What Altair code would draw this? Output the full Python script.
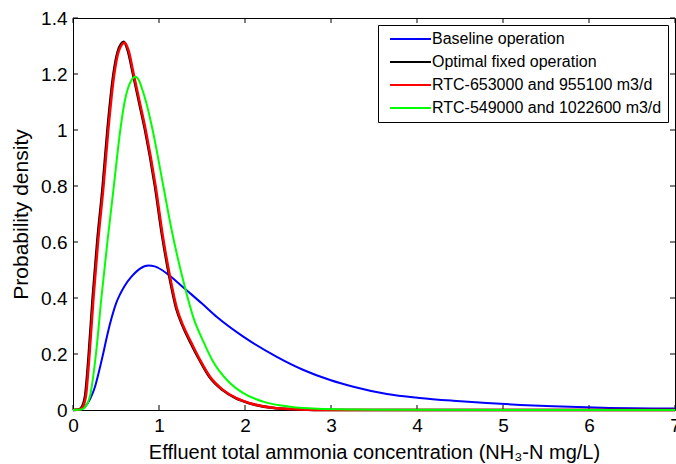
import altair as alt
import pandas as pd

FONT = "Liberation Sans"

series_names = [
    "Baseline operation",
    "Optimal fixed operation",
    "RTC-653000 and 955100 m3/d",
    "RTC-549000 and 1022600 m3/d",
]
series_colors = ["#0000ff", "#000000", "#ff0000", "#00ff00"]
series_widths = [2, 2.5, 2.5, 2]

baseline_x = [0, 0.08, 0.14, 0.2, 0.256, 0.30, 0.35, 0.40, 0.45, 0.50, 0.55, 0.60, 0.68, 0.78, 0.876,
              0.95, 1.09, 1.2, 1.32, 1.5, 1.67, 1.98, 2.37, 2.68, 2.99, 3.26, 3.65, 4.03, 4.42,
              4.81, 5.2, 5.58, 6.16, 7.0]
baseline_y = [0, 0.001, 0.012, 0.04, 0.083, 0.135, 0.20, 0.27, 0.33, 0.38, 0.415, 0.443, 0.476, 0.505, 0.516,
              0.513, 0.488, 0.46, 0.428, 0.38, 0.333, 0.262, 0.19, 0.143, 0.107, 0.083, 0.057, 0.043,
              0.033, 0.025, 0.018, 0.013, 0.008, 0.005]

optimal_x = [0, 0.07, 0.11, 0.14, 0.183, 0.228, 0.281, 0.345, 0.40, 0.47, 0.52, 0.59, 0.635, 0.697,
             0.767, 0.837, 0.952, 1.037, 1.12, 1.198, 1.275, 1.37, 1.47, 1.585, 1.74, 1.89, 2.05,
             2.36, 2.63, 2.94, 7.0]
optimal_y = [0, 0.002, 0.015, 0.05, 0.2, 0.4, 0.6, 0.8, 1.0, 1.2, 1.28, 1.315, 1.285, 1.2,
             1.1, 1.0, 0.8, 0.62, 0.476, 0.365, 0.30, 0.238, 0.179, 0.119, 0.071, 0.042, 0.024,
             0.006, 0.002, 0, 0]

rtc1_x = [0, 0.08, 0.12, 0.15, 0.192, 0.238, 0.291, 0.355, 0.41, 0.48, 0.53, 0.60, 0.645, 0.705,
          0.775, 0.845, 0.96, 1.045, 1.128, 1.206, 1.283, 1.38, 1.477, 1.593, 1.748, 1.90, 2.06,
          2.37, 2.64, 2.94, 7.0]
rtc1_y = [0, 0.002, 0.015, 0.05, 0.2, 0.4, 0.6, 0.8, 1.0, 1.2, 1.28, 1.312, 1.285, 1.2,
          1.1, 1.0, 0.8, 0.62, 0.476, 0.365, 0.30, 0.238, 0.179, 0.119, 0.071, 0.042, 0.024,
          0.006, 0.002, 0, 0]

rtc2_x = [0, 0.10, 0.14, 0.198, 0.267, 0.33, 0.40, 0.475, 0.55, 0.60, 0.64, 0.68, 0.725, 0.77,
          0.80, 0.85, 0.926, 1.05, 1.147, 1.30, 1.40, 1.515, 1.63, 1.79, 1.98, 2.21, 2.52, 2.91,
          3.5, 7.0]
rtc2_y = [0, 0.002, 0.01, 0.05, 0.2, 0.4, 0.6, 0.8, 1.0, 1.1, 1.15, 1.178, 1.19, 1.175,
          1.15, 1.10, 1.0, 0.8, 0.643, 0.44, 0.33, 0.245, 0.172, 0.107, 0.06, 0.03, 0.012, 0.004,
          0.001, 0]

x_ticks = [0, 1, 2, 3, 4, 5, 6, 7]
y_ticks = [0, 0.2, 0.4, 0.6, 0.8, 1.0, 1.2, 1.4]

all_x = [baseline_x, optimal_x, rtc1_x, rtc2_x]
all_y = [baseline_y, optimal_y, rtc1_y, rtc2_y]

W, H = 602, 392

x_scale = alt.Scale(domain=[0, 7], nice=False, zero=False)
y_scale = alt.Scale(domain=[0, 1.4], nice=False, zero=False)

x_axis = alt.Axis(
    values=x_ticks, format="d", title="Effluent total ammonia concentration (NH\u2083-N mg/L)",
    domain=False, ticks=False, grid=False, labelFlush=False,
    labelFont=FONT, labelFontSize=19, labelColor="black", labelPadding=6,
    titleFont=FONT, titleFontSize=20, titleFontWeight="normal", titleColor="black",
    titleBaseline="alphabetic", titleY=48,
)
y_axis = alt.Axis(
    values=y_ticks, format="~g", title="Probability density",
    domain=False, ticks=False, grid=False, labelFlush=False,
    labelFont=FONT, labelFontSize=19, labelColor="black", labelPadding=6,
    titleFont=FONT, titleFontSize=21, titleFontWeight="normal", titleColor="black",
    titleBaseline="alphabetic", titleX=-46, titleY=H / 2, titleAngle=-90, titleAlign="center",
)

color_scale = alt.Scale(domain=series_names, range=series_colors)
legend = alt.Legend(
    title=None, orient="none", legendX=305, legendY=7,
    symbolType="M-4.1,0H4.1", symbolSize=100, symbolStrokeWidth=2, symbolOffset=18.5,
    labelFont=FONT, labelFontSize=16, labelColor="black", labelLimit=400, labelOffset=13.5,
    strokeColor="black", fillColor="white", padding=6, rowPadding=7, cornerRadius=0,
)

layers = []
for name, xs, ys, sw in zip(series_names, all_x, all_y, series_widths):
    df = pd.DataFrame({"x": xs, "y": ys, "series": name})
    layers.append(
        alt.Chart(df).mark_line(interpolate="monotone", strokeWidth=sw).encode(
            x=alt.X("x:Q", scale=x_scale, axis=x_axis),
            y=alt.Y("y:Q", scale=y_scale, axis=y_axis),
            color=alt.Color("series:N", scale=color_scale, legend=legend),
        )
    )

xt = pd.DataFrame({"x": x_ticks})
yt = pd.DataFrame({"y": y_ticks})
tick_len = 5
ticks = [
    alt.Chart(xt).mark_rule(color="black", strokeWidth=1).encode(
        x=alt.X("x:Q", scale=x_scale, axis=x_axis), y=alt.value(H), y2=alt.value(H - tick_len)),
    alt.Chart(xt).mark_rule(color="black", strokeWidth=1).encode(
        x=alt.X("x:Q", scale=x_scale, axis=x_axis), y=alt.value(0), y2=alt.value(tick_len)),
    alt.Chart(yt).mark_rule(color="black", strokeWidth=1).encode(
        y=alt.Y("y:Q", scale=y_scale, axis=y_axis), x=alt.value(0), x2=alt.value(tick_len)),
    alt.Chart(yt).mark_rule(color="black", strokeWidth=1).encode(
        y=alt.Y("y:Q", scale=y_scale, axis=y_axis), x=alt.value(W), x2=alt.value(W - tick_len)),
]

chart = alt.layer(*ticks, *layers).properties(
    width=W, height=H,
    padding={"left": 73, "top": 18, "right": 1, "bottom": 54},
    autosize=alt.AutoSizeParams(type="none"),
    background="white",
).configure_view(stroke="black", strokeWidth=1)

chart.save("out.html", embed_options={"renderer": "svg", "actions": False})
